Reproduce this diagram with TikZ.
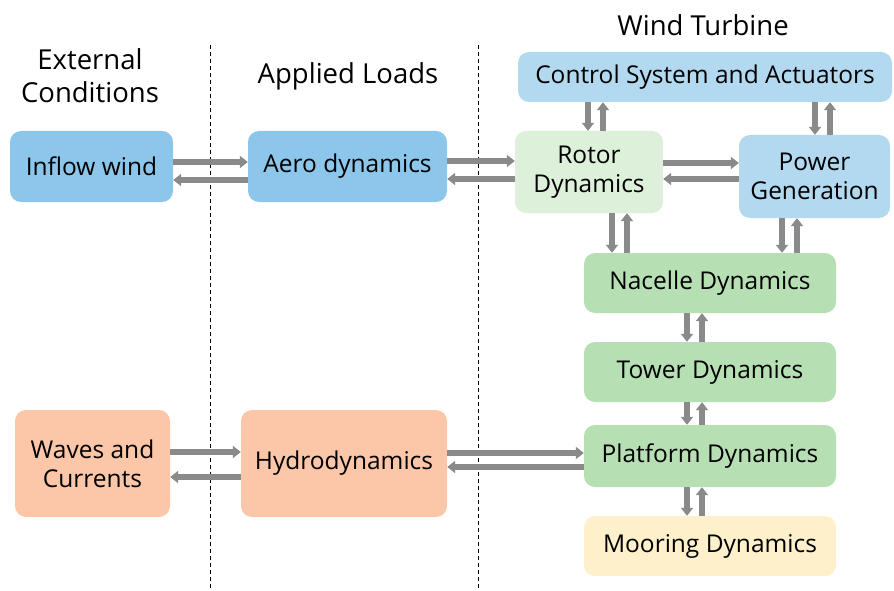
\documentclass[tikz,border=0pt]{standalone}
\usepackage{fontspec}
\setmainfont{Open Sans}
\usetikzlibrary{positioning,arrows.meta}
\definecolor{blueA}{HTML}{8CC6EA}
\definecolor{blueB}{HTML}{B2D9EF}
\definecolor{greenA}{HTML}{DDF0D9}
\definecolor{greenB}{HTML}{B7DFB4}
\definecolor{moor}{HTML}{FDF0CA}
\definecolor{salmon}{HTML}{FCC6A9}
\definecolor{flowgray}{HTML}{8A8A8A}
\tikzstyle{block} = [rounded corners=11pt, inner sep=2pt, align=center, font=\fontsize{24.5}{29}\selectfont]
\tikzstyle{head} = [align=center, font=\fontsize{27.5}{33}\selectfont]
\tikzstyle{flow} = [line width=5.5pt, flowgray, -{Triangle[length=8pt,width=12pt]}]
\tikzstyle{divider} = [thin, black, dash pattern=on 4pt off 3pt]

\begin{document}
\begin{tikzpicture}[x=1pt,y=-1pt]
\useasboundingbox (0,0) rectangle (894,591);
% column titles
\node[head] (ext) at (90,76) {External\\Conditions};
\node[head] (loads) at (348,76) {Applied Loads};
\node[head] (wt) at (703,25) {Wind Turbine};
\draw[divider] (210,45) -- (210,591);
\draw[divider] (478,45) -- (478,591);
% boxes
\node[block, fill=blueB, minimum width=374pt, minimum height=50pt] (ctrl) at (705,77) {Control System and Actuators};
\node[block, fill=blueA, minimum width=163pt, minimum height=71pt] (inflow) at (91.5,166.5) {Inflow wind};
\node[block, fill=blueA, minimum width=199pt, minimum height=71pt] (aero) at (347.5,166.5) {Aero dynamics};
\node[block, fill=greenA, minimum width=148pt, minimum height=82pt] (rotor) at (589,172) {Rotor\\Dynamics};
\node[block, fill=blueB, minimum width=151pt, minimum height=83pt] (power) at (814.5,176.5) {Power\\Generation};
\node[block, fill=greenB, minimum width=252pt, minimum height=60pt] (nacelle) at (710,283) {Nacelle Dynamics};
\node[block, fill=greenB, minimum width=252pt, minimum height=60pt] (tower) at (710,372) {Tower Dynamics};
\node[block, fill=greenB, minimum width=252pt, minimum height=62pt] (platform) at (710,456) {Platform Dynamics};
\node[block, fill=moor, minimum width=252pt, minimum height=60pt] (mooring) at (710,546) {Mooring Dynamics};
\node[block, fill=salmon, minimum width=155pt, minimum height=107pt] (waves) at (92.5,463.5) {Waves and\\Currents};
\node[block, fill=salmon, minimum width=206pt, minimum height=107pt] (hydro) at (344,463.5) {Hydrodynamics};
% horizontal pairs
\draw[flow] (inflow.east |- 0,162) -- (aero.west |- 0,162);
\draw[flow] (aero.west |- 0,180) -- (inflow.east |- 0,180);
\draw[flow] (aero.east |- 0,161) -- (rotor.west |- 0,161);
\draw[flow] (rotor.west |- 0,179) -- (aero.east |- 0,179);
\draw[flow] (rotor.east |- 0,163) -- (power.west |- 0,163);
\draw[flow] (power.west |- 0,179) -- (rotor.east |- 0,179);
\draw[flow] (waves.east |- 0,452) -- (hydro.west |- 0,452);
\draw[flow] (hydro.west |- 0,477) -- (waves.east |- 0,477);
\draw[flow] (hydro.east |- 0,453) -- (platform.west |- 0,453);
\draw[flow] (platform.west |- 0,467) -- (hydro.east |- 0,467);
% vertical pairs
\draw[flow] (588,0 |- ctrl.south) -- (588,0 |- rotor.north);
\draw[flow] (603,0 |- rotor.north) -- (603,0 |- ctrl.south);
\draw[flow] (815,0 |- ctrl.south) -- (815,0 |- power.north);
\draw[flow] (830,0 |- power.north) -- (830,0 |- ctrl.south);
\draw[flow] (612,0 |- rotor.south) -- (612,0 |- nacelle.north);
\draw[flow] (627,0 |- nacelle.north) -- (627,0 |- rotor.south);
\draw[flow] (782,0 |- power.south) -- (782,0 |- nacelle.north);
\draw[flow] (797,0 |- nacelle.north) -- (797,0 |- power.south);
\draw[flow] (687,0 |- nacelle.south) -- (687,0 |- tower.north);
\draw[flow] (702,0 |- tower.north) -- (702,0 |- nacelle.south);
\draw[flow] (687,0 |- tower.south) -- (687,0 |- platform.north);
\draw[flow] (702,0 |- platform.north) -- (702,0 |- tower.south);
\draw[flow] (687,0 |- platform.south) -- (687,0 |- mooring.north);
\draw[flow] (702,0 |- mooring.north) -- (702,0 |- platform.south);
\end{tikzpicture}
\end{document}
